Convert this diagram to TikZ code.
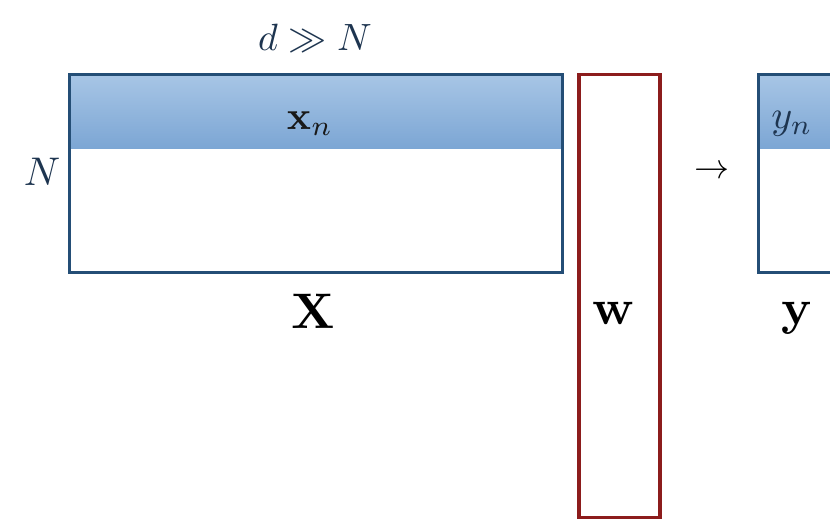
\documentclass[tikz,border=0pt]{standalone}
\usepackage{amsmath,amssymb}
\newcommand{\bigtxt}[2]{\scalebox{#1}{#2}}
\begin{document}
\begin{tikzpicture}[x=1pt,y=-1pt,
  blueline/.style={draw=matblue,line width=3pt},
  hdr/.style={rectangle,anchor=north west,inner sep=0pt,top color=hdrtop,bottom color=hdrbot,draw=none},
  matbox/.style={rectangle,anchor=north west,inner sep=0pt,blueline,fill=none},
  wbox/.style={rectangle,anchor=north west,inner sep=0pt,draw=wred,line width=3.5pt},
  lbl/.style={inner sep=0pt,text=txtdark},
  biglbl/.style={inner sep=0pt,text=black}]
\definecolor{matblue}{HTML}{244E76}
\definecolor{hdrtop}{HTML}{A8C6E6}
\definecolor{hdrbot}{HTML}{7CA6D4}
\definecolor{wred}{HTML}{8C1C1C}
\definecolor{txtdark}{HTML}{1E3550}
\useasboundingbox (0,0) rectangle (830,519);
\clip (0,0) rectangle (830,519);
% X matrix
\node[hdr,minimum width=493pt,minimum height=75pt] (Xh) at (68,73) {};
\node[matbox,minimum width=493pt,minimum height=198pt] (X) at (68,73) {};
\node[lbl,text=black!90] (xn) at (310,124) {\bigtxt{4}{$\mathbf{x}_n$}};
\node[lbl] (Nl) at (42,172) {\bigtxt{4}{$N$}};
\node[lbl] (dN) at (315,38) {\bigtxt{3.8}{$d \gg N$}};
\node[biglbl] (Xl) at (313,311) {\bigtxt{5}{$\mathbf{X}$}};
% w vector
\node[wbox,minimum width=81pt,minimum height=443pt] (W) at (577,73) {};
\node[biglbl] (wl) at (614,313) {\bigtxt{5}{$\mathbf{w}$}};
% arrow
\node[inner sep=0pt] (arr) at (712,172) {\bigtxt{3.5}{$\rightarrow$}};
% y vector
\node[hdr,minimum width=80pt,minimum height=75pt] (Yh) at (757,73) {};
\node[matbox,minimum width=80pt,minimum height=198pt] (Y) at (757,73) {};
\node[lbl] (yn) at (792,124) {\bigtxt{4}{$y_n$}};
\node[biglbl] (yl) at (797,318) {\bigtxt{5}{$\mathbf{y}$}};
\end{tikzpicture}
\end{document}
